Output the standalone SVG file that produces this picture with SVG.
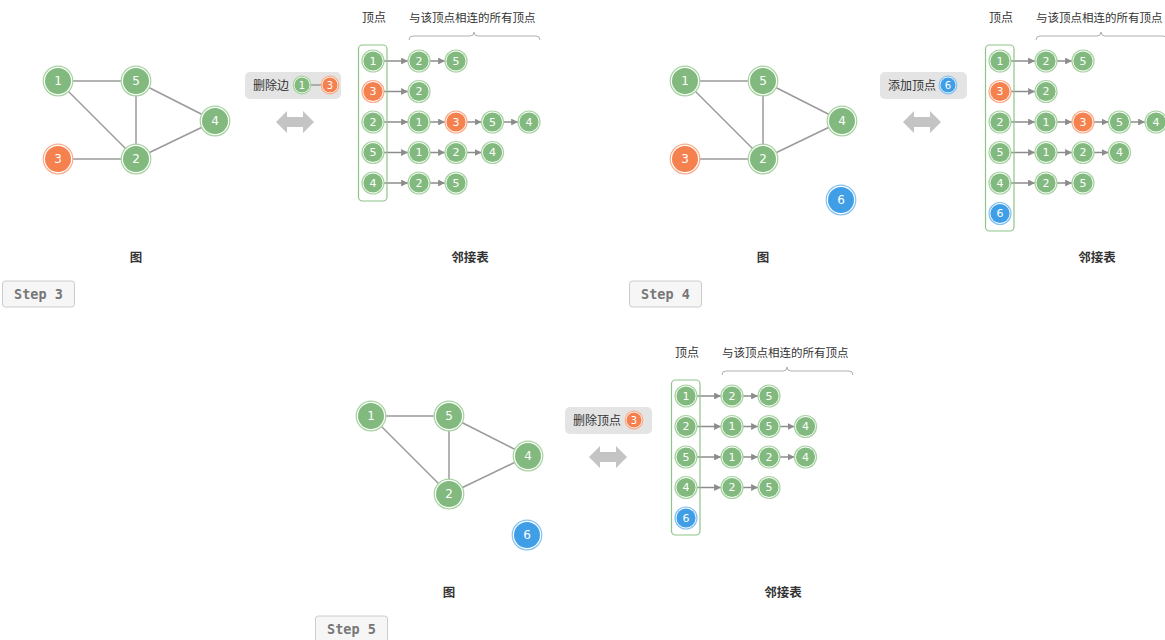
<svg xmlns="http://www.w3.org/2000/svg" width="1165" height="640" viewBox="0 0 1165 640">
<style>
.bg{fill:#ffffff}
.edge{stroke:#9a9a9a;stroke-width:1.5;fill:none}
.arr{stroke:#8c8c8c;stroke-width:1.5;fill:none}
.rg{fill:#ffffff;stroke:#a7d3a1;stroke-width:1.2}
.ro{fill:#ffffff;stroke:#f9ad8c;stroke-width:1.2}
.rb{fill:#ffffff;stroke:#84c2ef;stroke-width:1.2}
.fg{fill:#82b97f}
.fo{fill:#f5814f}
.fb{fill:#3f9ee6}
.nt{font-family:"DejaVu Sans","Noto Sans",sans-serif;fill:#ffffff;text-anchor:middle;dominant-baseline:central}
.big{font-size:12px}
.sm{font-size:11px}
.mini{font-size:10px}
.cn{font-family:"Noto Sans CJK SC","Noto Sans",sans-serif;font-size:12px;fill:#333333}
.cnl{font-family:"Noto Sans CJK SC","Noto Sans",sans-serif;font-size:11.5px;fill:#333333}
.cap{font-family:"Noto Sans CJK SC","Noto Sans",sans-serif;font-size:12.5px;font-weight:bold;fill:#333333;text-anchor:middle}
.lbox{fill:#e4e4e4}
.dbl{fill:#c4c4c4}
.col{fill:none;stroke:#8fc489;stroke-width:1.2}
.brace{fill:none;stroke:#b0b0b0;stroke-width:1}
.btn{fill:#f6f6f6;stroke:#cccccc;stroke-width:1}
.btnt{font-family:"DejaVu Sans Mono","Liberation Mono",monospace;font-size:13.5px;font-weight:bold;fill:#777777;text-anchor:middle;dominant-baseline:central}
</style>
<defs>
<marker id="ah" viewBox="0 0 10 10" refX="10" refY="5" markerWidth="4.6" markerHeight="4.6" orient="auto" markerUnits="strokeWidth">
<path d="M0,0 L10,5 L0,10 z" fill="#8c8c8c"/>
</marker>
</defs>
<rect class="bg" x="0" y="0" width="1165" height="640"/>

<!-- ================= PANEL 1 (Step 3) ================= -->
<g id="panel-step3">
<g id="s3-connectors">
<line class="edge" x1="58" y1="81" x2="136" y2="81"/>
<line class="edge" x1="58" y1="81" x2="136" y2="159"/>
<line class="edge" x1="136" y1="81" x2="136" y2="159"/>
<line class="edge" x1="136" y1="81" x2="215" y2="121"/>
<line class="edge" x1="136" y1="159" x2="215" y2="121"/>
<line class="edge" x1="58" y1="159" x2="136" y2="159"/>
<line class="arr" x1="384" y1="61" x2="408" y2="61" marker-end="url(#ah)"/>
<line class="arr" x1="430" y1="61" x2="445" y2="61" marker-end="url(#ah)"/>
<line class="arr" x1="384" y1="91.5" x2="408" y2="91.5" marker-end="url(#ah)"/>
<line class="arr" x1="384" y1="122" x2="408" y2="122" marker-end="url(#ah)"/>
<line class="arr" x1="430" y1="122" x2="445" y2="122" marker-end="url(#ah)"/>
<line class="arr" x1="467" y1="122" x2="481.5" y2="122" marker-end="url(#ah)"/>
<line class="arr" x1="503.5" y1="122" x2="518" y2="122" marker-end="url(#ah)"/>
<line class="arr" x1="384" y1="152.5" x2="408" y2="152.5" marker-end="url(#ah)"/>
<line class="arr" x1="430" y1="152.5" x2="445" y2="152.5" marker-end="url(#ah)"/>
<line class="arr" x1="467" y1="152.5" x2="481.5" y2="152.5" marker-end="url(#ah)"/>
<line class="arr" x1="384" y1="183" x2="408" y2="183" marker-end="url(#ah)"/>
<line class="arr" x1="430" y1="183" x2="445" y2="183" marker-end="url(#ah)"/>
</g>
<g id="s3-g1" transform="translate(58,81)"><circle class="rg" r="14.8"/><circle class="fg" r="13"/><text class="nt big">1</text></g>
<g id="s3-g5" transform="translate(136,81)"><circle class="rg" r="14.8"/><circle class="fg" r="13"/><text class="nt big">5</text></g>
<g id="s3-g4" transform="translate(215,121)"><circle class="rg" r="14.8"/><circle class="fg" r="13"/><text class="nt big">4</text></g>
<g id="s3-g3" transform="translate(58,159)"><circle class="ro" r="14.8"/><circle class="fo" r="13"/><text class="nt big">3</text></g>
<g id="s3-g2" transform="translate(136,159)"><circle class="rg" r="14.8"/><circle class="fg" r="13"/><text class="nt big">2</text></g>

<g id="s3-label">
<rect class="lbox" x="245" y="72" width="96" height="27" rx="5"/>
<text class="cn" x="253" y="89.5">删除边</text>
<line class="edge" x1="310" y1="85" x2="322" y2="85"/>
<g transform="translate(302,85)"><circle class="rg" r="8.8"/><circle class="fg" r="7.6"/><text class="nt mini">1</text></g>
<g transform="translate(330,85)"><circle class="ro" r="8.8"/><circle class="fo" r="7.6"/><text class="nt mini">3</text></g>
</g>
<polygon id="s3-dbl" class="dbl" points="276,122 287,111 287,117 303,117 303,111 314,122 303,133 303,127 287,127 287,133"/>

<g id="s3-adj">
<text class="cn" x="362" y="22">顶点</text>
<text class="cnl" x="409" y="22">与该顶点相连的所有顶点</text>
<path class="brace" d="M409,40 Q409,36 413,36 L470,36 Q474,36 474,32 Q474,36 478,36 L536,36 Q540,36 540,40"/>
<rect class="col" x="358.5" y="45" width="28.5" height="156" rx="4"/>
<g id="s3-v1" transform="translate(373,61)"><circle class="rg" r="11"/><circle class="fg" r="9.6"/><text class="nt sm">1</text></g>
<g id="s3-v3" transform="translate(373,91.5)"><circle class="ro" r="11"/><circle class="fo" r="9.6"/><text class="nt sm">3</text></g>
<g id="s3-v2" transform="translate(373,122)"><circle class="rg" r="11"/><circle class="fg" r="9.6"/><text class="nt sm">2</text></g>
<g id="s3-v5" transform="translate(373,152.5)"><circle class="rg" r="11"/><circle class="fg" r="9.6"/><text class="nt sm">5</text></g>
<g id="s3-v4" transform="translate(373,183)"><circle class="rg" r="11"/><circle class="fg" r="9.6"/><text class="nt sm">4</text></g>
<g id="s3-a1-2" transform="translate(419,61)"><circle class="rg" r="11"/><circle class="fg" r="9.6"/><text class="nt sm">2</text></g>
<g id="s3-a1-5" transform="translate(456,61)"><circle class="rg" r="11"/><circle class="fg" r="9.6"/><text class="nt sm">5</text></g>
<g id="s3-a3-2" transform="translate(419,91.5)"><circle class="rg" r="11"/><circle class="fg" r="9.6"/><text class="nt sm">2</text></g>
<g id="s3-a2-1" transform="translate(419,122)"><circle class="rg" r="11"/><circle class="fg" r="9.6"/><text class="nt sm">1</text></g>
<g id="s3-a2-3" transform="translate(456,122)"><circle class="ro" r="11"/><circle class="fo" r="9.6"/><text class="nt sm">3</text></g>
<g id="s3-a2-5" transform="translate(492.5,122)"><circle class="rg" r="11"/><circle class="fg" r="9.6"/><text class="nt sm">5</text></g>
<g id="s3-a2-4" transform="translate(529,122)"><circle class="rg" r="11"/><circle class="fg" r="9.6"/><text class="nt sm">4</text></g>
<g id="s3-a5-1" transform="translate(419,152.5)"><circle class="rg" r="11"/><circle class="fg" r="9.6"/><text class="nt sm">1</text></g>
<g id="s3-a5-2" transform="translate(456,152.5)"><circle class="rg" r="11"/><circle class="fg" r="9.6"/><text class="nt sm">2</text></g>
<g id="s3-a5-4" transform="translate(492.5,152.5)"><circle class="rg" r="11"/><circle class="fg" r="9.6"/><text class="nt sm">4</text></g>
<g id="s3-a4-2" transform="translate(419,183)"><circle class="rg" r="11"/><circle class="fg" r="9.6"/><text class="nt sm">2</text></g>
<g id="s3-a4-5" transform="translate(456,183)"><circle class="rg" r="11"/><circle class="fg" r="9.6"/><text class="nt sm">5</text></g>
</g>
<text class="cap" x="136" y="262">图</text>
<text class="cap" x="470" y="262">邻接表</text>
<g id="s3-btn"><rect class="btn" x="2.5" y="281" width="72" height="26" rx="3"/><text class="btnt" x="38.5" y="294">Step 3</text></g>
</g>

<!-- ================= PANEL 2 (Step 4) ================= -->
<g id="panel-step4" transform="translate(627,0)">
<g id="s4-connectors">
<line class="edge" x1="58" y1="81" x2="136" y2="81"/>
<line class="edge" x1="58" y1="81" x2="136" y2="159"/>
<line class="edge" x1="136" y1="81" x2="136" y2="159"/>
<line class="edge" x1="136" y1="81" x2="215" y2="121"/>
<line class="edge" x1="136" y1="159" x2="215" y2="121"/>
<line class="edge" x1="58" y1="159" x2="136" y2="159"/>
<line class="arr" x1="384" y1="61" x2="408" y2="61" marker-end="url(#ah)"/>
<line class="arr" x1="430" y1="61" x2="445" y2="61" marker-end="url(#ah)"/>
<line class="arr" x1="384" y1="91.5" x2="408" y2="91.5" marker-end="url(#ah)"/>
<line class="arr" x1="384" y1="122" x2="408" y2="122" marker-end="url(#ah)"/>
<line class="arr" x1="430" y1="122" x2="445" y2="122" marker-end="url(#ah)"/>
<line class="arr" x1="467" y1="122" x2="481.5" y2="122" marker-end="url(#ah)"/>
<line class="arr" x1="503.5" y1="122" x2="518" y2="122" marker-end="url(#ah)"/>
<line class="arr" x1="384" y1="152.5" x2="408" y2="152.5" marker-end="url(#ah)"/>
<line class="arr" x1="430" y1="152.5" x2="445" y2="152.5" marker-end="url(#ah)"/>
<line class="arr" x1="467" y1="152.5" x2="481.5" y2="152.5" marker-end="url(#ah)"/>
<line class="arr" x1="384" y1="183" x2="408" y2="183" marker-end="url(#ah)"/>
<line class="arr" x1="430" y1="183" x2="445" y2="183" marker-end="url(#ah)"/>
</g>
<g id="s4-g1" transform="translate(58,81)"><circle class="rg" r="14.8"/><circle class="fg" r="13"/><text class="nt big">1</text></g>
<g id="s4-g5" transform="translate(136,81)"><circle class="rg" r="14.8"/><circle class="fg" r="13"/><text class="nt big">5</text></g>
<g id="s4-g4" transform="translate(215,121)"><circle class="rg" r="14.8"/><circle class="fg" r="13"/><text class="nt big">4</text></g>
<g id="s4-g3" transform="translate(58,159)"><circle class="ro" r="14.8"/><circle class="fo" r="13"/><text class="nt big">3</text></g>
<g id="s4-g2" transform="translate(136,159)"><circle class="rg" r="14.8"/><circle class="fg" r="13"/><text class="nt big">2</text></g>
<g id="s4-g6" transform="translate(214,200)"><circle class="rb" r="14.8"/><circle class="fb" r="13"/><text class="nt big">6</text></g>

<g id="s4-label">
<rect class="lbox" x="253" y="72" width="87" height="27" rx="5"/>
<text class="cn" x="261" y="89.5">添加顶点</text>
<g transform="translate(321,85)"><circle class="rb" r="8.8"/><circle class="fb" r="7.6"/><text class="nt mini">6</text></g>
</g>
<polygon id="s4-dbl" class="dbl" points="276,122 287,111 287,117 303,117 303,111 314,122 303,133 303,127 287,127 287,133"/>

<g id="s4-adj">
<text class="cn" x="362" y="22">顶点</text>
<text class="cnl" x="409" y="22">与该顶点相连的所有顶点</text>
<path class="brace" d="M409,40 Q409,36 413,36 L470,36 Q474,36 474,32 Q474,36 478,36 L536,36 Q540,36 540,40"/>
<rect class="col" x="358.5" y="45" width="28.5" height="186" rx="4"/>
<g id="s4-v1" transform="translate(373,61)"><circle class="rg" r="11"/><circle class="fg" r="9.6"/><text class="nt sm">1</text></g>
<g id="s4-v3" transform="translate(373,91.5)"><circle class="ro" r="11"/><circle class="fo" r="9.6"/><text class="nt sm">3</text></g>
<g id="s4-v2" transform="translate(373,122)"><circle class="rg" r="11"/><circle class="fg" r="9.6"/><text class="nt sm">2</text></g>
<g id="s4-v5" transform="translate(373,152.5)"><circle class="rg" r="11"/><circle class="fg" r="9.6"/><text class="nt sm">5</text></g>
<g id="s4-v4" transform="translate(373,183)"><circle class="rg" r="11"/><circle class="fg" r="9.6"/><text class="nt sm">4</text></g>
<g id="s4-v6" transform="translate(373,213.5)"><circle class="rb" r="11"/><circle class="fb" r="9.6"/><text class="nt sm">6</text></g>
<g id="s4-a1-2" transform="translate(419,61)"><circle class="rg" r="11"/><circle class="fg" r="9.6"/><text class="nt sm">2</text></g>
<g id="s4-a1-5" transform="translate(456,61)"><circle class="rg" r="11"/><circle class="fg" r="9.6"/><text class="nt sm">5</text></g>
<g id="s4-a3-2" transform="translate(419,91.5)"><circle class="rg" r="11"/><circle class="fg" r="9.6"/><text class="nt sm">2</text></g>
<g id="s4-a2-1" transform="translate(419,122)"><circle class="rg" r="11"/><circle class="fg" r="9.6"/><text class="nt sm">1</text></g>
<g id="s4-a2-3" transform="translate(456,122)"><circle class="ro" r="11"/><circle class="fo" r="9.6"/><text class="nt sm">3</text></g>
<g id="s4-a2-5" transform="translate(492.5,122)"><circle class="rg" r="11"/><circle class="fg" r="9.6"/><text class="nt sm">5</text></g>
<g id="s4-a2-4" transform="translate(529,122)"><circle class="rg" r="11"/><circle class="fg" r="9.6"/><text class="nt sm">4</text></g>
<g id="s4-a5-1" transform="translate(419,152.5)"><circle class="rg" r="11"/><circle class="fg" r="9.6"/><text class="nt sm">1</text></g>
<g id="s4-a5-2" transform="translate(456,152.5)"><circle class="rg" r="11"/><circle class="fg" r="9.6"/><text class="nt sm">2</text></g>
<g id="s4-a5-4" transform="translate(492.5,152.5)"><circle class="rg" r="11"/><circle class="fg" r="9.6"/><text class="nt sm">4</text></g>
<g id="s4-a4-2" transform="translate(419,183)"><circle class="rg" r="11"/><circle class="fg" r="9.6"/><text class="nt sm">2</text></g>
<g id="s4-a4-5" transform="translate(456,183)"><circle class="rg" r="11"/><circle class="fg" r="9.6"/><text class="nt sm">5</text></g>
</g>
<text class="cap" x="136" y="262">图</text>
<text class="cap" x="470" y="262">邻接表</text>
<g id="s4-btn"><rect class="btn" x="2.5" y="281" width="72" height="26" rx="3"/><text class="btnt" x="38.5" y="294">Step 4</text></g>
</g>

<!-- ================= PANEL 3 (Step 5) ================= -->
<g id="panel-step5" transform="translate(313,335)">
<g id="s5-connectors">
<line class="edge" x1="58" y1="81" x2="136" y2="81"/>
<line class="edge" x1="58" y1="81" x2="136" y2="159"/>
<line class="edge" x1="136" y1="81" x2="136" y2="159"/>
<line class="edge" x1="136" y1="81" x2="215" y2="121"/>
<line class="edge" x1="136" y1="159" x2="215" y2="121"/>
<line class="arr" x1="384" y1="61" x2="408" y2="61" marker-end="url(#ah)"/>
<line class="arr" x1="430" y1="61" x2="445" y2="61" marker-end="url(#ah)"/>
<line class="arr" x1="384" y1="91.5" x2="408" y2="91.5" marker-end="url(#ah)"/>
<line class="arr" x1="430" y1="91.5" x2="445" y2="91.5" marker-end="url(#ah)"/>
<line class="arr" x1="467" y1="91.5" x2="481.5" y2="91.5" marker-end="url(#ah)"/>
<line class="arr" x1="384" y1="122" x2="408" y2="122" marker-end="url(#ah)"/>
<line class="arr" x1="430" y1="122" x2="445" y2="122" marker-end="url(#ah)"/>
<line class="arr" x1="467" y1="122" x2="481.5" y2="122" marker-end="url(#ah)"/>
<line class="arr" x1="384" y1="152.5" x2="408" y2="152.5" marker-end="url(#ah)"/>
<line class="arr" x1="430" y1="152.5" x2="445" y2="152.5" marker-end="url(#ah)"/>
</g>
<g id="s5-g1" transform="translate(58,81)"><circle class="rg" r="14.8"/><circle class="fg" r="13"/><text class="nt big">1</text></g>
<g id="s5-g5" transform="translate(136,81)"><circle class="rg" r="14.8"/><circle class="fg" r="13"/><text class="nt big">5</text></g>
<g id="s5-g4" transform="translate(215,121)"><circle class="rg" r="14.8"/><circle class="fg" r="13"/><text class="nt big">4</text></g>
<g id="s5-g2" transform="translate(136,159)"><circle class="rg" r="14.8"/><circle class="fg" r="13"/><text class="nt big">2</text></g>
<g id="s5-g6" transform="translate(214,200)"><circle class="rb" r="14.8"/><circle class="fb" r="13"/><text class="nt big">6</text></g>

<g id="s5-label">
<rect class="lbox" x="252" y="72" width="87" height="27" rx="5"/>
<text class="cn" x="260" y="89.5">删除顶点</text>
<g transform="translate(321,85)"><circle class="ro" r="8.8"/><circle class="fo" r="7.6"/><text class="nt mini">3</text></g>
</g>
<polygon id="s5-dbl" class="dbl" points="276,122 287,111 287,117 303,117 303,111 314,122 303,133 303,127 287,127 287,133"/>

<g id="s5-adj">
<text class="cn" x="362" y="22">顶点</text>
<text class="cnl" x="409" y="22">与该顶点相连的所有顶点</text>
<path class="brace" d="M409,40 Q409,36 413,36 L470,36 Q474,36 474,32 Q474,36 478,36 L536,36 Q540,36 540,40"/>
<rect class="col" x="358.5" y="45" width="28.5" height="155" rx="4"/>
<g id="s5-v1" transform="translate(373,61)"><circle class="rg" r="11"/><circle class="fg" r="9.6"/><text class="nt sm">1</text></g>
<g id="s5-v2" transform="translate(373,91.5)"><circle class="rg" r="11"/><circle class="fg" r="9.6"/><text class="nt sm">2</text></g>
<g id="s5-v5" transform="translate(373,122)"><circle class="rg" r="11"/><circle class="fg" r="9.6"/><text class="nt sm">5</text></g>
<g id="s5-v4" transform="translate(373,152.5)"><circle class="rg" r="11"/><circle class="fg" r="9.6"/><text class="nt sm">4</text></g>
<g id="s5-v6" transform="translate(373,183)"><circle class="rb" r="11"/><circle class="fb" r="9.6"/><text class="nt sm">6</text></g>
<g id="s5-a1-2" transform="translate(419,61)"><circle class="rg" r="11"/><circle class="fg" r="9.6"/><text class="nt sm">2</text></g>
<g id="s5-a1-5" transform="translate(456,61)"><circle class="rg" r="11"/><circle class="fg" r="9.6"/><text class="nt sm">5</text></g>
<g id="s5-a2-1" transform="translate(419,91.5)"><circle class="rg" r="11"/><circle class="fg" r="9.6"/><text class="nt sm">1</text></g>
<g id="s5-a2-5" transform="translate(456,91.5)"><circle class="rg" r="11"/><circle class="fg" r="9.6"/><text class="nt sm">5</text></g>
<g id="s5-a2-4" transform="translate(492.5,91.5)"><circle class="rg" r="11"/><circle class="fg" r="9.6"/><text class="nt sm">4</text></g>
<g id="s5-a5-1" transform="translate(419,122)"><circle class="rg" r="11"/><circle class="fg" r="9.6"/><text class="nt sm">1</text></g>
<g id="s5-a5-2" transform="translate(456,122)"><circle class="rg" r="11"/><circle class="fg" r="9.6"/><text class="nt sm">2</text></g>
<g id="s5-a5-4" transform="translate(492.5,122)"><circle class="rg" r="11"/><circle class="fg" r="9.6"/><text class="nt sm">4</text></g>
<g id="s5-a4-2" transform="translate(419,152.5)"><circle class="rg" r="11"/><circle class="fg" r="9.6"/><text class="nt sm">2</text></g>
<g id="s5-a4-5" transform="translate(456,152.5)"><circle class="rg" r="11"/><circle class="fg" r="9.6"/><text class="nt sm">5</text></g>
</g>
<text class="cap" x="136" y="262">图</text>
<text class="cap" x="470" y="262">邻接表</text>
<g id="s5-btn"><rect class="btn" x="2.5" y="281" width="72" height="26" rx="3"/><text class="btnt" x="38.5" y="294">Step 5</text></g>
</g>
</svg>
